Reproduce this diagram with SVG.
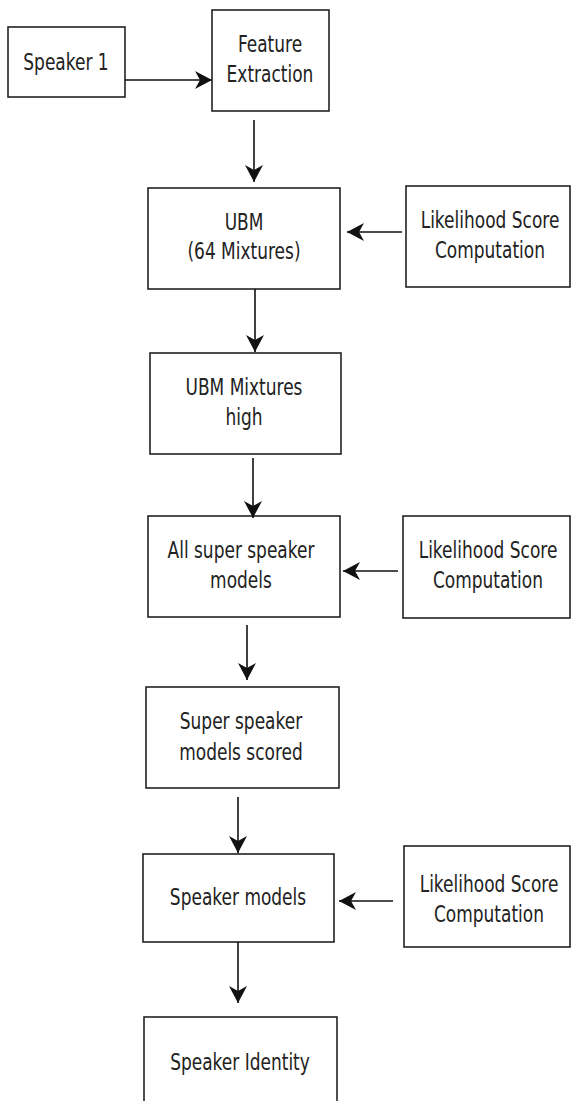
<svg xmlns="http://www.w3.org/2000/svg" width="572" height="1101" viewBox="0 0 572 1101">
<defs>
<style>
.box{fill:#fff;stroke:#222;stroke-width:1.6}
.edge{fill:none;stroke:#111;stroke-width:1.6}
.t{font-family:"DejaVu Sans","Liberation Sans",sans-serif;font-size:17px;fill:#222;text-anchor:middle}
</style>
<marker id="ah" viewBox="0 0 18 18" refX="17" refY="9" markerWidth="18" markerHeight="18" markerUnits="userSpaceOnUse" orient="auto">
<path d="M0,0 L17,9 L0,18 L5,9 Z" fill="#111"/>
</marker>
</defs>
<rect width="572" height="1101" fill="#fff"/>
<g id="speaker1"><rect class="box" x="8" y="27" width="117" height="70"/>
<text class="t" transform="translate(66,70) scale(1,1.35)">Speaker 1</text></g>
<g id="feature"><rect class="box" x="212" y="10" width="117" height="101"/>
<text class="t" transform="translate(270,52) scale(1,1.35)">Feature</text>
<text class="t" transform="translate(270,82) scale(1,1.35)">Extraction</text></g>
<g id="ubm"><rect class="box" x="148" y="188" width="192" height="101"/>
<text class="t" transform="translate(244,230) scale(1,1.35)">UBM</text>
<text class="t" transform="translate(244,259) scale(1,1.35)">(64 Mixtures)</text></g>
<g id="lsc1"><rect class="box" x="406" y="186" width="164" height="101"/>
<text class="t" transform="translate(490,228) scale(1,1.35)">Likelihood Score</text>
<text class="t" transform="translate(490,258) scale(1,1.35)">Computation</text></g>
<g id="ubmhigh"><rect class="box" x="150" y="353" width="191" height="101"/>
<text class="t" transform="translate(244,395) scale(1,1.35)">UBM Mixtures</text>
<text class="t" transform="translate(244,425) scale(1,1.35)">high</text></g>
<g id="allsuper"><rect class="box" x="148" y="516" width="192" height="101"/>
<text class="t" transform="translate(241,558) scale(1,1.35)">All super speaker</text>
<text class="t" transform="translate(241,588) scale(1,1.35)">models</text></g>
<g id="lsc2"><rect class="box" x="403" y="516" width="167" height="102"/>
<text class="t" transform="translate(488,558) scale(1,1.35)">Likelihood Score</text>
<text class="t" transform="translate(488,588) scale(1,1.35)">Computation</text></g>
<g id="superscored"><rect class="box" x="146" y="687" width="193" height="101"/>
<text class="t" transform="translate(241,729) scale(1,1.35)">Super speaker</text>
<text class="t" transform="translate(241,760) scale(1,1.35)">models scored</text></g>
<g id="spkmodels"><rect class="box" x="143" y="854" width="191" height="88"/>
<text class="t" transform="translate(238,905) scale(1,1.35)">Speaker models</text></g>
<g id="lsc3"><rect class="box" x="404" y="846" width="166" height="101"/>
<text class="t" transform="translate(489,892) scale(1,1.35)">Likelihood Score</text>
<text class="t" transform="translate(489,922) scale(1,1.35)">Computation</text></g>
<g id="identity"><rect class="box" x="144" y="1017" width="193" height="100"/>
<text class="t" transform="translate(240,1070) scale(1,1.35)">Speaker Identity</text></g>
<g id="connectors">
<line class="edge" x1="125" y1="80" x2="212" y2="80" marker-end="url(#ah)"/>
<line class="edge" x1="254" y1="120" x2="254" y2="182" marker-end="url(#ah)"/>
<line class="edge" x1="402" y1="232" x2="347" y2="232" marker-end="url(#ah)"/>
<line class="edge" x1="255" y1="289" x2="255" y2="352" marker-end="url(#ah)"/>
<line class="edge" x1="253" y1="458" x2="253" y2="518" marker-end="url(#ah)"/>
<line class="edge" x1="398" y1="571" x2="343" y2="571" marker-end="url(#ah)"/>
<line class="edge" x1="247" y1="625" x2="247" y2="680" marker-end="url(#ah)"/>
<line class="edge" x1="238" y1="797" x2="238" y2="853" marker-end="url(#ah)"/>
<line class="edge" x1="393" y1="901" x2="339" y2="901" marker-end="url(#ah)"/>
<line class="edge" x1="238" y1="942" x2="238" y2="1003" marker-end="url(#ah)"/>
</g>
</svg>
